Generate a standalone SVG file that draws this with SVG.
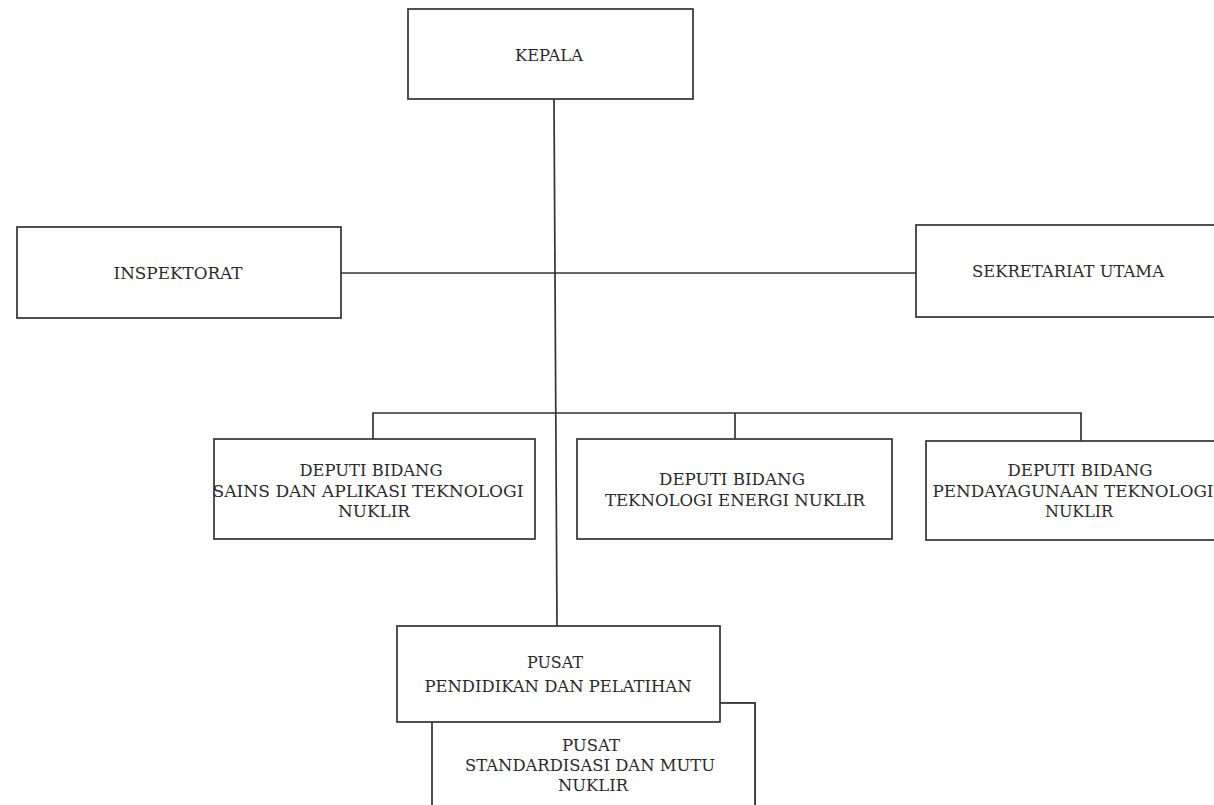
<svg xmlns="http://www.w3.org/2000/svg" width="1214" height="805" viewBox="0 0 1214 805">
<style>
.box{fill:#fff;stroke:#333;stroke-width:1.7}
.ln{fill:none;stroke:#333;stroke-width:1.7}
text{font-family:"DejaVu Serif","Liberation Serif",serif;font-size:16px;fill:#2a2a2a;text-anchor:middle}
</style>
<rect width="1214" height="805" fill="#fff"/>
<g id="connectors">
<line class="ln" x1="341" y1="273" x2="916" y2="273"/>
<polyline class="ln" points="373,439 373,413 1081,413 1081,441"/>
<line class="ln" x1="735" y1="413" x2="735" y2="439"/>
<polyline class="ln" points="720,703 755,703 755,805"/>
<line class="ln" x1="554" y1="99" x2="557" y2="626"/>
</g>
<g id="kepala">
<rect class="box" x="408" y="9" width="285" height="90"/>
<text x="549" y="61" textLength="68" lengthAdjust="spacingAndGlyphs">KEPALA</text>
</g>
<g id="inspektorat">
<rect class="box" x="17" y="227" width="324" height="91"/>
<text x="178" y="279" textLength="129" lengthAdjust="spacingAndGlyphs">INSPEKTORAT</text>
</g>
<g id="sekretariat">
<rect class="box" x="916" y="225" width="310" height="92"/>
<text x="1068" y="277" textLength="192" lengthAdjust="spacingAndGlyphs">SEKRETARIAT UTAMA</text>
</g>
<g id="deputi-sains">
<rect class="box" x="214" y="439" width="321" height="100"/>
<text x="371" y="476" textLength="143" lengthAdjust="spacingAndGlyphs">DEPUTI BIDANG</text>
<text x="368" y="497" textLength="311" lengthAdjust="spacingAndGlyphs">SAINS DAN APLIKASI TEKNOLOGI</text>
<text x="374" y="517" textLength="72" lengthAdjust="spacingAndGlyphs">NUKLIR</text>
</g>
<g id="deputi-energi">
<rect class="box" x="577" y="439" width="315" height="100"/>
<text x="732" y="485" textLength="146" lengthAdjust="spacingAndGlyphs">DEPUTI BIDANG</text>
<text x="735" y="506" textLength="260" lengthAdjust="spacingAndGlyphs">TEKNOLOGI ENERGI NUKLIR</text>
</g>
<g id="deputi-pendayagunaan">
<rect class="box" x="926" y="441" width="300" height="99"/>
<text x="1080" y="476" textLength="145" lengthAdjust="spacingAndGlyphs">DEPUTI BIDANG</text>
<text x="1073" y="497" textLength="281" lengthAdjust="spacingAndGlyphs">PENDAYAGUNAAN TEKNOLOGI</text>
<text x="1079" y="517" textLength="68" lengthAdjust="spacingAndGlyphs">NUKLIR</text>
</g>
<g id="pusat-standardisasi">
<rect class="box" x="432" y="703" width="323" height="110"/>
<text x="591" y="751" textLength="58" lengthAdjust="spacingAndGlyphs">PUSAT</text>
<text x="590" y="771" textLength="250" lengthAdjust="spacingAndGlyphs">STANDARDISASI DAN MUTU</text>
<text x="593" y="791" textLength="70" lengthAdjust="spacingAndGlyphs">NUKLIR</text>
</g>
<g id="pusat-diklat">
<rect class="box" x="397" y="626" width="323" height="96"/>
<text x="555" y="668" textLength="56" lengthAdjust="spacingAndGlyphs">PUSAT</text>
<text x="558" y="692" textLength="267" lengthAdjust="spacingAndGlyphs">PENDIDIKAN DAN PELATIHAN</text>
</g>
</svg>
